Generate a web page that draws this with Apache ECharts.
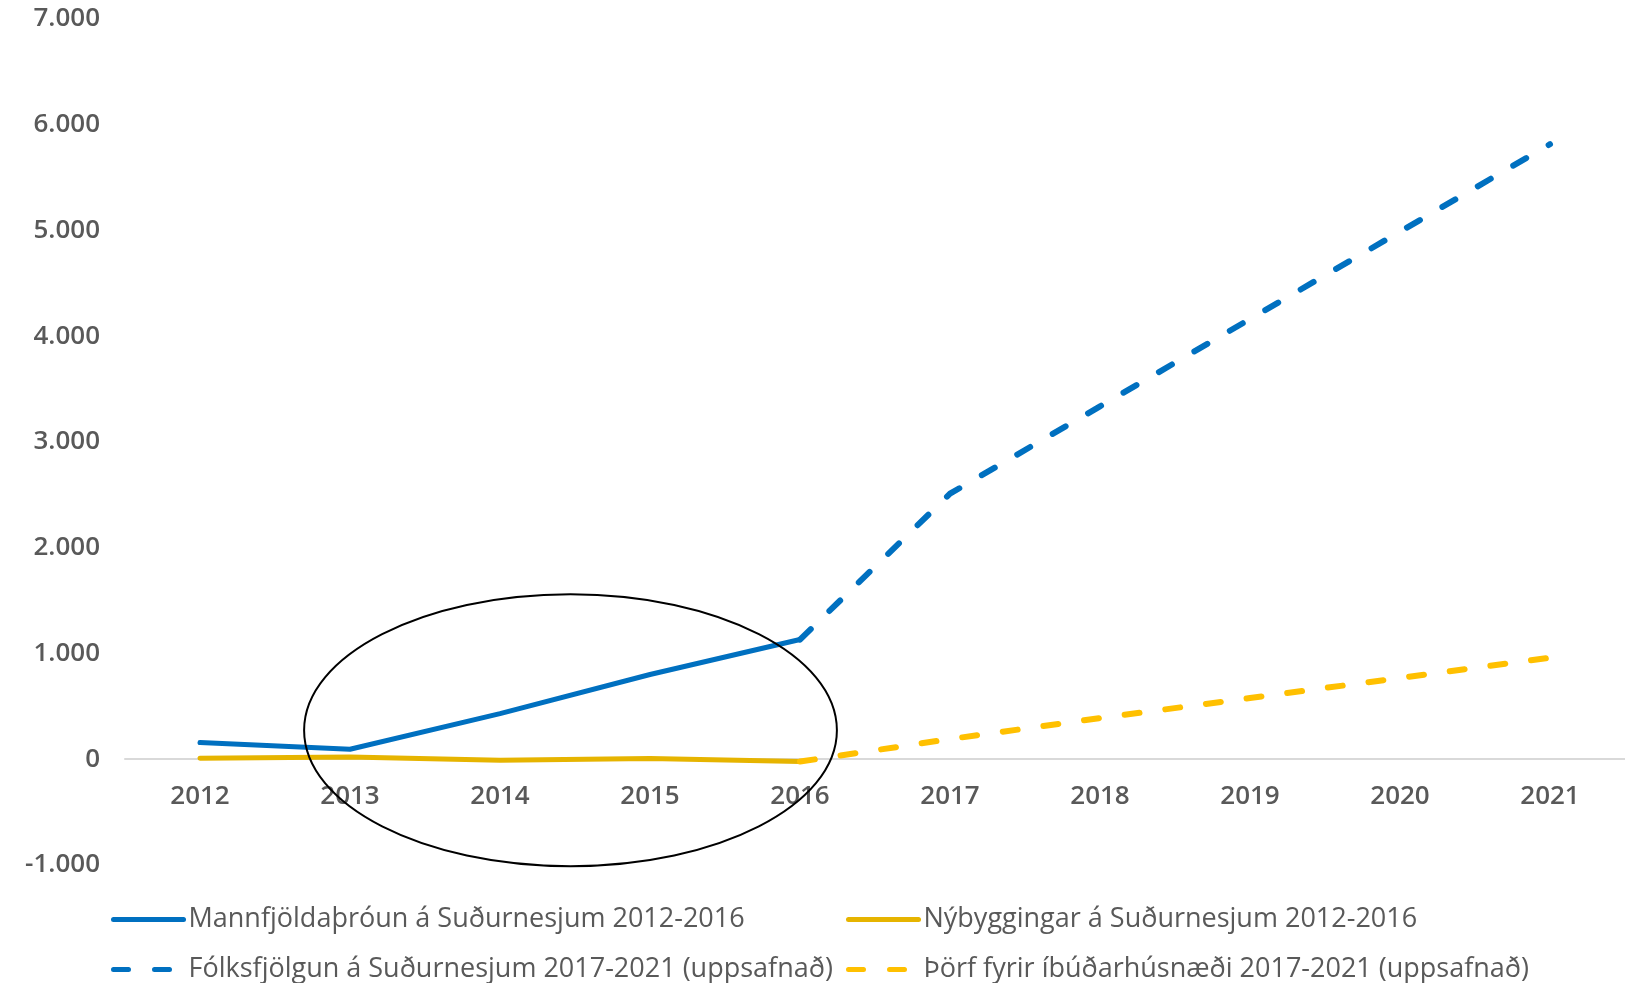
<!DOCTYPE html>
<html>
<head>
<meta charset="utf-8">
<script src="https://cdn.jsdelivr.net/npm/echarts@6/dist/echarts.min.js"></script>
<style>
  html, body { margin: 0; padding: 0; background: #fff; }
  #chart { width: 1625px; height: 983px; }
</style>
</head>
<body>
<div id="chart"></div>
<script>
const years = ["2012", "2013", "2014", "2015", "2016", "2017", "2018", "2019", "2020", "2021"];
// heilar línur 2012-2016
const mannfjoldi = [158, 95, 432, 801, 1132, null, null, null, null, null];
const nybyggingar = [10, 22, -9, 6, -22, null, null, null, null, null];
// spá, uppsafnað 2017-2021 (byrjar í 2016 punkti)
const folksfjolgun = [null, null, null, null, 1132, 2511, 3337, 4163, 4989, 5816];
const thorf = [null, null, null, null, -22, 191, 389, 579, 769, 960];

const seriesNames = [
  "Mannfjöldaþróun á Suðurnesjum 2012-2016",
  "Nýbyggingar á Suðurnesjum 2012-2016",
  "Fólksfjölgun á Suðurnesjum 2017-2021 (uppsafnað)",
  "Þörf fyrir íbúðarhúsnæði 2017-2021 (uppsafnað)"
];
const yTickValues = [-1000, 0, 1000, 2000, 3000, 4000, 5000, 6000, 7000];
const yTickLabels = ["-1.000", "0", "1.000", "2.000", "3.000", "4.000", "5.000", "6.000", "7.000"];

// hringurinn utan um 2013-2016 (miðja milli 2014 og 2015)
const ringCenterYear = ["2014", "2015"];
const ringCenterFrac = 0.47;
const ringCenterValue = 274;
const ringRadiusYears = 1.776;
const ringRadiusValue = 1286;

const labelColor = "#595959";
const axisFont = "'Open Sans', sans-serif";

let myChart = echarts.init(document.getElementById("chart"));

const legendText = {
  color: labelColor,
  fontSize: 27,
  fontFamily: axisFont
};

function makeLegend(names, left) {
  return {
    data: names,
    orient: "vertical",
    left: left,
    top: 901,
    height: 200,
    itemWidth: 70,
    itemHeight: 14,
    itemGap: 23,
    lineStyle: { width: 5 },
    itemStyle: { color: "transparent", borderWidth: 0, opacity: 0 },
    textStyle: legendText
  };
}

const option = {
  animation: false,
  grid: {
    left: 125,
    right: -13,
    top: 19,
    bottom: 118,
    containLabel: false
  },
  legend: [
    makeLegend([seriesNames[0], seriesNames[2]], 106),
    makeLegend([seriesNames[1], seriesNames[3]], 841)
  ],
  xAxis: {
    type: "category",
    data: years,
    boundaryGap: true,
    offset: -106,
    axisLine: {
      onZero: false,
      lineStyle: { color: "#D9D9D9", width: 2 }
    },
    axisTick: { show: false },
    axisLabel: {
      margin: 25,
      color: labelColor,
      fontSize: 26,
      fontWeight: 600,
      fontFamily: axisFont
    },
    splitLine: { show: false }
  },
  yAxis: {
    type: "value",
    min: -1000,
    max: 7000,
    interval: 1000,
    axisLine: { show: false },
    axisTick: { show: false },
    splitLine: { show: false },
    axisLabel: {
      margin: 25,
      color: labelColor,
      fontSize: 26,
      fontWeight: 600,
      fontFamily: axisFont,
      formatter: function (v) {
        return yTickLabels[yTickValues.indexOf(v)];
      }
    }
  },
  series: [
    {
      name: seriesNames[0],
      type: "line",
      data: mannfjoldi,
      symbol: "none",
      lineStyle: { color: "#0070C0", width: 5, cap: "round" },
      itemStyle: { color: "#0070C0" }
    },
    {
      name: seriesNames[1],
      type: "line",
      data: nybyggingar,
      symbol: "none",
      lineStyle: { color: "#E6B400", width: 5, cap: "round" },
      itemStyle: { color: "#E6B400" }
    },
    {
      name: seriesNames[2],
      type: "line",
      data: folksfjolgun,
      symbol: "none",
      lineStyle: { color: "#0070C0", width: 6, type: [15, 26], cap: "round" },
      itemStyle: { color: "#0070C0" }
    },
    {
      name: seriesNames[3],
      type: "line",
      data: thorf,
      symbol: "none",
      lineStyle: { color: "#FFC000", width: 6, type: [15, 26], cap: "round" },
      itemStyle: { color: "#FFC000" }
    }
  ]
};
myChart.setOption(option);

// hringurinn teiknaður út frá ásunum
function drawRing() {
  const a = myChart.convertToPixel({ gridIndex: 0 }, [ringCenterYear[0], ringCenterValue]);
  const b = myChart.convertToPixel({ gridIndex: 0 }, [ringCenterYear[1], ringCenterValue]);
  const band = b[0] - a[0];
  const top = myChart.convertToPixel({ gridIndex: 0 }, [ringCenterYear[0], ringCenterValue + ringRadiusValue]);
  myChart.setOption({
    graphic: [
      {
        type: "ellipse",
        shape: {
          cx: a[0] + band * ringCenterFrac,
          cy: a[1],
          rx: band * ringRadiusYears,
          ry: a[1] - top[1]
        },
        style: { fill: "none", stroke: "#000", lineWidth: 2 },
        z: 10
      }
    ]
  });
}
drawRing();

window.onresize = function () {
  myChart.resize();
  drawRing();
};
</script>
</body>
</html>
